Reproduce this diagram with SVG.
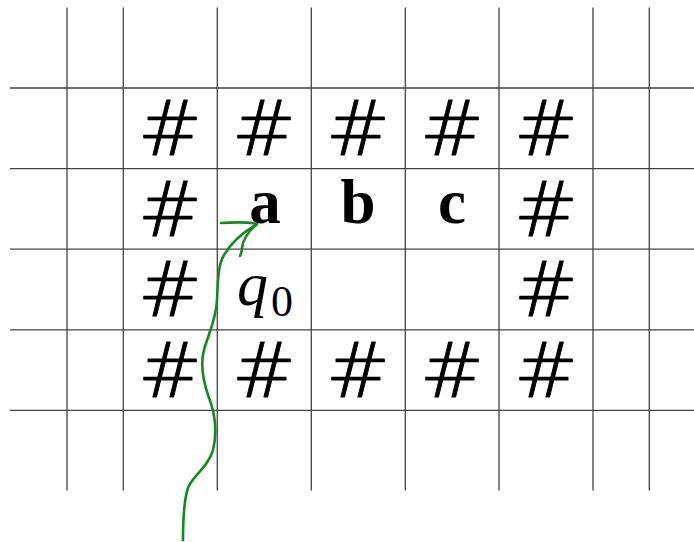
<svg xmlns="http://www.w3.org/2000/svg" width="694" height="542" viewBox="0 0 694 542">
<style>
.g{stroke:#444;stroke-width:1.3;fill:none}
.h{font-family:"DejaVu Sans",sans-serif;font-weight:200;font-size:77px;fill:#000;stroke:#000;stroke-width:0.9;stroke-linejoin:round;text-anchor:middle}
.l{font-family:"Liberation Serif","Times New Roman",serif;font-weight:bold;font-size:63px;fill:#000;text-anchor:middle}
.q{font-family:"Liberation Serif","Times New Roman",serif;font-style:italic;font-size:62px;fill:#000}
.s{font-style:normal;font-size:44px}
.c{stroke:#13891f;stroke-width:2.6;fill:none;stroke-linecap:round;stroke-linejoin:round}
</style>
<rect width="694" height="542" fill="#fff"/>
<g id="grid">
<path class="g" d="M67,7.5V490.5M123.3,7.5V490.5M217.3,7.5V490.5M311.3,7.5V490.5M405.3,7.5V490.5M499,7.5V490.5M593,7.5V490.5M649.3,7.5V490.5"/>
<path class="g" d="M10,88H694M10,168.6H694M10,249.2H694M10,329.8H694M10,410.4H694"/>
</g>
<g id="row1">
<text class="h" x="170" y="155">#</text>
<text class="h" x="264" y="155">#</text>
<text class="h" x="358" y="155">#</text>
<text class="h" x="452" y="155">#</text>
<text class="h" x="546" y="155">#</text>
</g>
<g id="row2">
<text class="h" x="170" y="235.5">#</text>
<text id="a" class="l" x="265" y="223">a</text>
<text id="b" class="l" x="358" y="223">b</text>
<text id="c" class="l" x="452" y="223">c</text>
<text class="h" x="546" y="235.5">#</text>
</g>
<g id="row3">
<text class="h" x="170" y="316">#</text>
<text id="q0" class="q" x="237" y="305">q<tspan class="s" dx="3" dy="11">0</tspan></text>
<text class="h" x="546" y="316">#</text>
</g>
<g id="row4">
<text class="h" x="170" y="397">#</text>
<text class="h" x="264" y="397">#</text>
<text class="h" x="358" y="397">#</text>
<text class="h" x="452" y="397">#</text>
<text class="h" x="546" y="397">#</text>
</g>
<g id="connectors">
<path class="c" d="M183,540 C183,520 184,500 188,488 C192,476 208,468 213,450 C218,430 214,410 208,395 C203,380 200,365 204,350 C208,335 216,320 217,300 C218,280 218,265 224,255 C230,245 240,234 256,225"/>
<path class="c" d="M221,223 C235,222 248,222 257,224 C250,230 243,238 242,248 C242,252 241,254 240,256"/>
</g>
</svg>
